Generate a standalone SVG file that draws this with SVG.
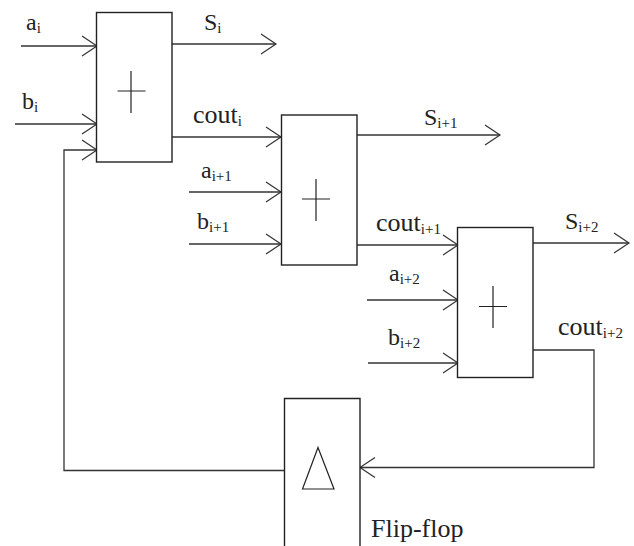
<svg xmlns="http://www.w3.org/2000/svg" width="634" height="546" viewBox="0 0 634 546">
<style>
.b{fill:#fff;stroke:#222;stroke-width:1.4}
.s{fill:none;stroke:#222;stroke-width:1.2}
.c{fill:none;stroke:#333;stroke-width:1.3}
text{font-family:"Liberation Serif","Times New Roman",serif;font-size:24px;fill:#222}
text.w{font-size:26px}
tspan{font-size:15px}
</style>
<defs>
<marker id="ah" markerUnits="userSpaceOnUse" viewBox="-18 -12 20 24" refX="0" refY="0" markerWidth="20" markerHeight="24" orient="auto" overflow="visible"><path d="M-15,-10 L0,0 L-15,10" fill="none" stroke="#333" stroke-width="1.2"/></marker>
</defs>
<rect width="634" height="546" fill="#fff"/>
<g id="connectors" class="c">
<path class="c" marker-end="url(#ah)" d="M21,46H97"/>
<path class="c" marker-end="url(#ah)" d="M15,124H97"/>
<path class="c" marker-end="url(#ah)" d="M284,470.500H64V150H97"/>
<path class="c" marker-end="url(#ah)" d="M172,44H276"/>
<path class="c" marker-end="url(#ah)" d="M172,137H281"/>
<path class="c" marker-end="url(#ah)" d="M189,192H281"/>
<path class="c" marker-end="url(#ah)" d="M189,244H281"/>
<path class="c" marker-end="url(#ah)" d="M357,135H500"/>
<path class="c" marker-end="url(#ah)" d="M357,245H458"/>
<path class="c" marker-end="url(#ah)" d="M533,243H629"/>
<path class="c" marker-end="url(#ah)" d="M367,300H458"/>
<path class="c" marker-end="url(#ah)" d="M368,363H458"/>
<path class="c" marker-end="url(#ah)" d="M533,350H594V467.500H360"/>
</g>
<g id="adder1">
<rect class="b" x="96.5" y="12.5" width="75.500" height="149.500"/>
<path class="s" d="M117.500,91H145.500M131,71V113"/>
</g>
<g id="adder2">
<rect class="b" x="281.500" y="115" width="75.500" height="150"/>
<path class="s" d="M302,199H330M316,179V221"/>
</g>
<g id="adder3">
<rect class="b" x="457.500" y="227.500" width="75.500" height="150"/>
<path class="s" d="M479,306.500H507M493,286V328"/>
</g>
<g id="flipflop">
<path class="b" d="M284.500,546V398.500H360V546"/>
<path class="s" d="M302.500,489L318,447.500L334,489Z"/>
<text class="w" x="371" y="537">Flip-flop</text>
</g>
<g id="labels">
<text x="26" y="30">a<tspan dy="3">i</tspan></text>
<text x="22" y="109">b<tspan dy="3">i</tspan></text>
<text x="204" y="30">S<tspan dy="3">i</tspan></text>
<text class="w" x="193" y="123">cout<tspan dy="3">i</tspan></text>
<text x="201" y="178">a<tspan dy="3">i+1</tspan></text>
<text x="197" y="229">b<tspan dy="3">i+1</tspan></text>
<text x="424" y="125">S<tspan dy="3">i+1</tspan></text>
<text class="w" x="376" y="231">cout<tspan dy="3">i+1</tspan></text>
<text x="389" y="281">a<tspan dy="3">i+2</tspan></text>
<text x="388" y="345">b<tspan dy="3">i+2</tspan></text>
<text x="565" y="229">S<tspan dy="3">i+2</tspan></text>
<text class="w" x="558" y="335">cout<tspan dy="3">i+2</tspan></text>
</g>
</svg>
